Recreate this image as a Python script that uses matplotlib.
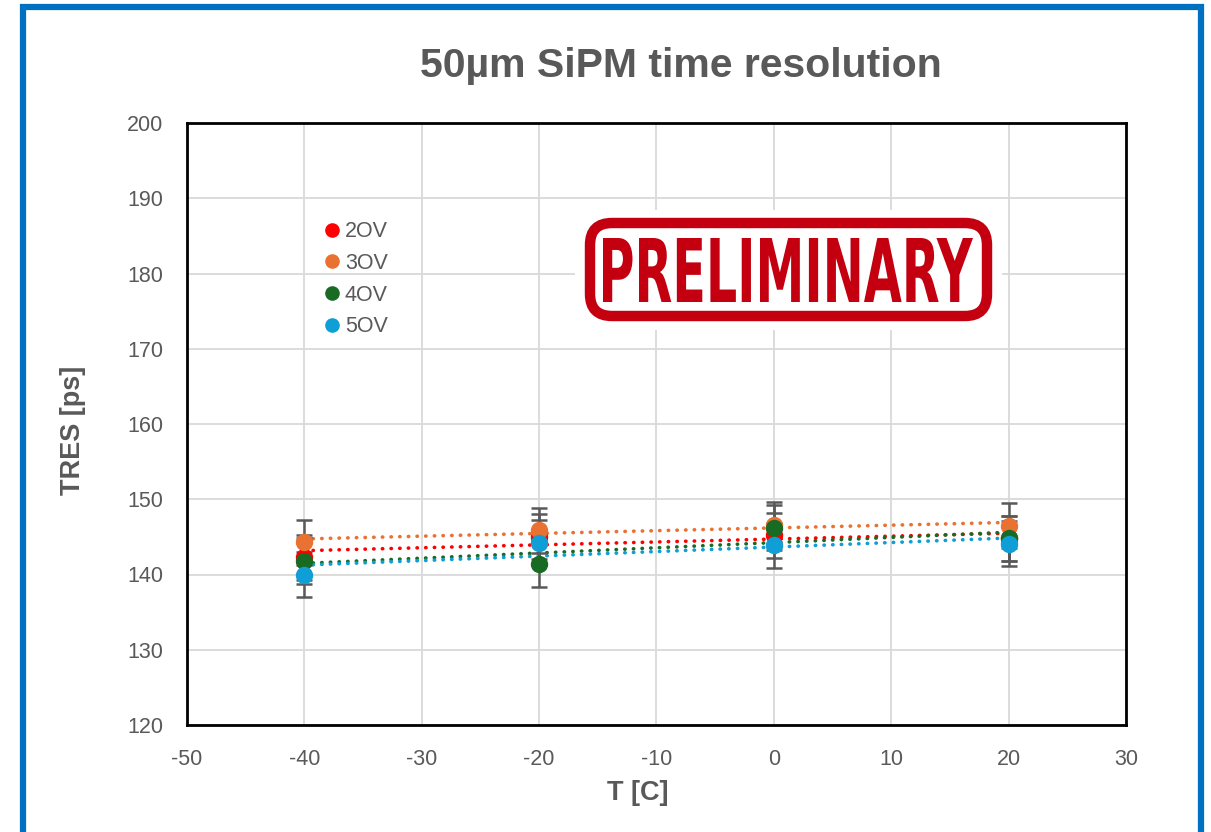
# 50um SiPM time resolution vs temperature
import numpy as np
import matplotlib.pyplot as plt
from matplotlib.patches import Rectangle, FancyBboxPatch, PathPatch
from matplotlib.textpath import TextPath
from matplotlib.font_manager import FontProperties
from matplotlib.lines import Line2D
from matplotlib.transforms import Affine2D

plt.rcParams['font.family'] = ['Liberation Sans', 'DejaVu Sans']
plt.rcParams['axes.unicode_minus'] = False

temps = [-40, -20, 0, 20]
labels = ['2OV', '3OV', '4OV', '5OV']
tres_2ov = [142.3, 145.0, 145.2, 144.8]
tres_3ov = [144.3, 145.9, 146.6, 146.5]
tres_4ov = [141.8, 141.4, 146.2, 144.8]
tres_5ov = [140.0, 144.2, 143.9, 144.1]
err_2ov = [3.0, 3.0, 3.0, 3.0]
err_3ov = [3.0, 3.0, 3.0, 3.0]
err_4ov = [3.0, 3.0, 3.0, 3.0]
err_5ov = [3.0, 3.0, 3.0, 3.0]
colors = ['#FF0000', '#E97132', '#196B24', '#0F9ED5']

series = [tres_2ov, tres_3ov, tres_4ov, tres_5ov]
errors = [err_2ov, err_3ov, err_4ov, err_5ov]
gray = '#595959'

fig = plt.figure(figsize=(12.11, 8.32), dpi=100)
ax = fig.add_axes([187 / 1211, 1 - 725 / 832, 939 / 1211, 602 / 832])

x = np.array(temps, dtype=float)

# trend lines
for y, c in zip(series, colors):
    k, b = np.polyfit(x, y, 1)
    ax.plot(x, k * x + b, color=c, lw=2.6, linestyle=(0, (0.1, 2.3)),
            dash_capstyle='round', zorder=2)

# error bars
for y, e in zip(series, errors):
    ax.errorbar(x, y, yerr=e, fmt='none', ecolor=gray, elinewidth=1.8,
                capsize=6, capthick=1.8, zorder=3)

# markers
for y, c in zip(series, colors):
    ax.plot(x, y, 'o', color=c, markersize=11.5, zorder=4)

ax.set_xlim(-50, 30)
ax.set_ylim(120, 200)
ax.set_xticks(np.arange(-50, 31, 10))
ax.set_yticks(np.arange(120, 201, 10))
ax.grid(True, color='#D9D9D9', lw=1.3)
ax.set_axisbelow(True)
ax.tick_params(length=0, labelsize=15.5, labelcolor=gray)
ax.tick_params(axis='y', pad=17)
ax.tick_params(axis='x', pad=17)
for sp in ax.spines.values():
    sp.set_color('black')
    sp.set_linewidth(2)

handles = [Line2D([], [], marker='o', linestyle='none', color=c, markersize=9.5)
           for c in colors]
leg = ax.legend(handles, labels, loc='upper left', bbox_to_anchor=(0.135, 0.855),
                frameon=False, fontsize=15.5, handlelength=0.7, handletextpad=0.25,
                labelspacing=0.5, borderpad=0)
for t in leg.get_texts():
    t.set_color(gray)

fig.text(681 / 1211, 1 - 66 / 832, '50µm SiPM time resolution', ha='center',
         va='center', fontsize=29.5, fontweight='bold', color=gray)
fig.text(638 / 1211, 1 - 793 / 832, 'T [C]', ha='center', va='center',
         fontsize=19.5, fontweight='bold', color=gray)
fig.text(73 / 1211, 1 - 430 / 832, 'TRES [ps]', ha='center', va='center',
         rotation=90, fontsize=19.5, fontweight='bold', color=gray)

# PRELIMINARY stamp, in pixel units
st = fig.add_axes([575 / 1211, 1 - 330 / 832, 427 / 1211, 120 / 832])
st.set_xlim(0, 427)
st.set_ylim(0, 120)
st.axis('off')
st.add_patch(Rectangle((0, 0), 427, 120, facecolor='white', edgecolor='none'))
st.add_patch(FancyBboxPatch((15, 14), 397, 93,
                            boxstyle='round,pad=0,rounding_size=22',
                            facecolor='white', edgecolor='#C40010', lw=7.5))
tp = TextPath((0, 0), 'PRELIMINARY', size=1,
              prop=FontProperties(family='DejaVu Sans', weight='bold'))
ext = tp.get_extents()
sx = (398 - 28) / ext.width
sy = (92 - 28) / ext.height
tr = Affine2D().translate(-ext.x0, -ext.y0).scale(sx, sy).translate(28, 28)
st.add_patch(PathPatch(tr.transform_path(tp), facecolor='#C40010',
                       edgecolor='none'))

# blue outer frame
fig.patches.append(Rectangle((23 / 1211, -0.1), (1201 - 23) / 1211,
                             (832 - 6.5) / 832 + 0.1, transform=fig.transFigure,
                             fill=False, edgecolor='#0070C0', lw=4.5))

fig.savefig('out.png', dpi=100)
